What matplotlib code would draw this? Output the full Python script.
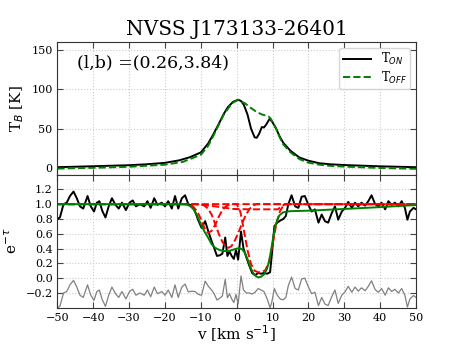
import numpy as np
import matplotlib
matplotlib.use('Agg')
import matplotlib.pyplot as plt

plt.rcParams['font.family'] = 'DejaVu Serif'
plt.rcParams['mathtext.fontset'] = 'dejavusans'

# emission spectrum (on / off source)
v_on = [-50, -40, -30, -25, -20, -16, -13, -10, -8, -6.5, -5, -3.7, -2.5, -1, 0.4, 1.2, 2, 3, 4, 5,
        5.6, 6.3, 7, 7.6, 8.2, 9.2, 10, 11, 12, 13, 15, 17.5, 20, 23, 26, 30, 40, 50]
t_on = [1.3, 2.5, 3.8, 5.0, 6.8, 10, 14, 20, 31, 43, 56, 68, 77, 84, 86.5, 85, 80, 68, 50, 39,
        38.5, 44, 52, 51.5, 55, 62.6, 58, 50, 40, 32, 22, 13.5, 9.5, 6.3, 5.0, 4.0, 2.4, 1.3]
v_off = [-50, -40, -30, -20, -15, -10, -8, -6.5, -5, -3.7, -2, -1, 0.4, 2.3, 4, 5.6, 7, 8.9, 9.5,
         11, 12, 13, 15, 17.5, 20, 23, 26, 30, 40, 50]
t_off = [-0.5, 0.5, 1.8, 4.5, 8, 17, 28, 41, 55, 67, 78, 83, 86.5, 82, 76, 71, 68, 65.5, 62.5,
         50, 39, 30, 20, 11.5, 7, 4.5, 3, 2, 0.3, -0.8]

# absorption spectrum
v_abs = [-50, -49.3, -48.3, -47.4, -46.5, -45.5, -44.6, -43.7, -42.8, -41.6, -40.7, -39.8, -39, -38.3,
         -37.5, -36.6, -35.7, -34.8, -33.8, -32.9, -32, -30.9, -29.9, -29, -28.1, -27, -25.8, -24.9,
         -24, -23, -22.1, -20.9, -20, -19.1, -18.1, -17.2, -16.3, -15.3, -14.4, -13.5, -12.5, -11.6,
         -10.7, -9.8, -8.8, -7.9, -7, -6.3, -5.5, -4.7, -4.0, -3.2, -2.6, -2.0, -1.4, -0.8, -0.2, 0.4,
         1.2, 1.9, 2.7, 3.5, 4.3, 5.1, 6.0, 6.8, 7.6, 8.5, 9.3, 9.8, 10.5, 11.3, 12.2, 13.0, 13.7, 14.4,
         15.3, 16.3, 17.2, 18.1, 19.0, 20, 20.9, 21.8, 22.8, 23.7, 24.6, 25.5, 26.5, 27.4, 28.3, 29.3,
         30.2, 31.1, 32.1, 33, 33.9, 34.8, 35.8, 36.7, 37.6, 38.6, 39.5, 40.4, 41.4, 42.3, 43.2, 44.1,
         45.1, 46, 46.9, 47.6, 48.3, 49.3, 50]
e_tau = [0.80, 0.82, 1.00, 1.02, 1.11, 1.17, 1.08, 0.97, 0.94, 1.11, 0.97, 0.90, 1.02, 1.04,
         0.91, 0.82, 0.97, 1.08, 0.99, 0.94, 1.02, 0.92, 1.02, 1.05, 0.97, 1.00, 0.97, 1.04,
         0.95, 1.08, 0.99, 1.02, 0.97, 1.04, 0.94, 1.11, 0.94, 1.08, 1.12, 1.00, 0.98, 0.90,
         0.78, 0.68, 0.77, 0.63, 0.50, 0.41, 0.30, 0.31, 0.33, 0.55, 0.30, 0.36, 0.30, 0.26, 0.38, 0.25,
         0.63, 0.40, 0.28, 0.17, 0.07, 0.04, 0.07, 0.06, 0.07, 0.06, 0.08, 0.32, 0.70, 0.75, 0.78, 0.80, 0.84, 1.00,
         1.12, 0.97, 0.95, 1.10, 1.11, 0.99, 0.90, 0.93, 0.75, 0.86, 0.77, 0.75, 0.88, 0.97, 0.79, 0.90,
         0.95, 1.03, 0.95, 1.02, 0.97, 1.02, 0.98, 1.04, 1.12, 1.00, 0.97, 1.02, 0.93, 1.04, 0.99, 1.02,
         0.97, 1.04, 0.95, 0.79, 0.90, 0.95, 0.93]
resid = [-0.40, -0.38, -0.20, -0.18, -0.09, -0.03, -0.12, -0.23, -0.26, -0.09, -0.23, -0.30, -0.18, -0.16,
         -0.29, -0.38, -0.23, -0.12, -0.21, -0.26, -0.18, -0.28, -0.18, -0.15, -0.23, -0.20, -0.23, -0.16,
         -0.25, -0.12, -0.21, -0.18, -0.23, -0.16, -0.26, -0.09, -0.26, -0.12, -0.08, -0.185, -0.175, -0.18,
         -0.22, -0.23, -0.04, -0.11, -0.16, -0.21, -0.295, -0.27, -0.24, -0.015, -0.265, -0.21, -0.28, -0.33, -0.22, -0.35,
         0.03, -0.16, -0.20, -0.20, -0.215, -0.19, -0.14, -0.16, -0.18, -0.28, -0.40, -0.32, -0.14, -0.23, -0.285, -0.29, -0.26, -0.10,
         0.015, -0.14, -0.16, -0.01, 0.0, -0.12, -0.21, -0.19, -0.37, -0.26, -0.35, -0.37, -0.25, -0.16, -0.34, -0.23,
         -0.185, -0.11, -0.19, -0.12, -0.175, -0.13, -0.17, -0.11, -0.035, -0.155, -0.19, -0.14, -0.23, -0.13, -0.18, -0.15,
         -0.20, -0.14, -0.23, -0.39, -0.28, -0.235, -0.26]

# total fit
v_fit = [-50, -15, -14, -13, -12, -11, -10, -9, -8, -7, -6, -5, -4, -3, -2, -1, 0, 0.8, 1.5, 2.2, 3,
         3.8, 4.6, 5.4, 6.1, 6.8, 7.6, 8.4, 9.0, 9.6, 10.2, 10.8, 11.4, 12, 13, 14, 15, 20, 30, 40, 50]
e_fit = [1.0, 1.0, 0.995, 0.975, 0.93, 0.84, 0.73, 0.63, 0.55, 0.46, 0.41, 0.385, 0.37, 0.365, 0.37,
         0.385, 0.40, 0.405, 0.39, 0.35, 0.26, 0.15, 0.07, 0.025, 0.01, 0.02, 0.05, 0.12, 0.22, 0.38,
         0.56, 0.71, 0.80, 0.855, 0.89, 0.90, 0.905, 0.912, 0.935, 0.96, 0.988]

# gaussian components
comp_v = [
    [-50, -14, -13, -12, -11, -10, -9, -8, -7, -6, -5, -4, -3, -2, -1, 50],
    [-50, -10, -9, -8, -7, -6, -5, -4, -3, -2.4, -1.5, -0.5, 0.5, 1.5, 2.5, 3.5, 4.5, 5.5, 50],
    [-50, 0, 1, 2, 3, 4, 5, 6, 7, 8, 9, 10, 11, 12, 13, 14, 50],
    [-50, -12, -6, -1, 4, 8, 11.5, 12.5, 13.5, 50],
]
comp_e = [
    [1, 1, 0.99, 0.96, 0.90, 0.80, 0.68, 0.61, 0.64, 0.72, 0.83, 0.92, 0.97, 0.99, 1, 1],
    [1, 1, 0.98, 0.94, 0.86, 0.73, 0.60, 0.49, 0.42, 0.41, 0.43, 0.51, 0.62, 0.74, 0.85, 0.93, 0.98, 1, 1],
    [1, 1, 0.90, 0.65, 0.38, 0.19, 0.10, 0.08, 0.08, 0.11, 0.22, 0.45, 0.72, 0.90, 0.98, 1, 1],
    [1, 1, 0.97, 0.935, 0.93, 0.93, 0.93, 0.97, 1, 1],
]

fig = plt.figure(figsize=(4.63, 3.47), dpi=100)
ax1 = fig.add_axes([0.124, 0.497, 0.7745, 0.383])
ax2 = fig.add_axes([0.124, 0.113, 0.7745, 0.384], sharex=ax1)

ax1.plot(v_on, t_on, color='k', lw=1.4, label=r'T$_{ON}$')
ax1.plot(v_off, t_off, color='green', ls='--', lw=1.4, label=r'T$_{OFF}$')
ax1.set_ylim(-8, 160)
ax1.set_yticks([0, 50, 100, 150])
ax1.set_ylabel(r'T$_B$ [K]', fontsize=11)
ax1.set_title('NVSS J173133-26401', fontsize=14.5, pad=5)
ax1.text(0.055, 0.81, '(l,b) =(0.26,3.84)', transform=ax1.transAxes, fontsize=12.5)
leg = ax1.legend(loc='upper right', fontsize=8.5, handlelength=2.4, labelspacing=0.2,
                 borderpad=0.3, borderaxespad=0.5, handletextpad=0.8)
leg.get_frame().set_edgecolor('#cccccc')
plt.setp(ax1.get_xticklabels(), visible=False)

ax2.plot(v_abs, e_tau, color='k', lw=1.4)
ax2.plot(v_abs, resid, color='gray', lw=0.9)
for cv, ce in zip(comp_v, comp_e):
    ax2.plot(cv, ce, color='red', ls='--', lw=1.4)
ax2.plot(v_fit, e_fit, color='green', lw=1.4)
ax2.set_ylim(-0.4, 1.4)
ax2.set_yticks([-0.2, 0.0, 0.2, 0.4, 0.6, 0.8, 1.0, 1.2])
ax2.set_xlim(-50, 50)
ax2.set_xticks(np.arange(-50, 51, 10))
ax2.set_ylabel(r'e$^{-\tau}$', fontsize=11)
ax2.set_xlabel(r'v [km s$^{-1}$]', fontsize=11, labelpad=1)

for ax in (ax1, ax2):
    ax.grid(True, ls=':', color='#cccccc', lw=0.8)
    ax.tick_params(direction='in', top=True, right=True, labelsize=8, length=4, color='#444444')
    for s in ax.spines.values():
        s.set_color('#333333')

fig.align_ylabels([ax1, ax2])
fig.savefig('out.png', dpi=100)
